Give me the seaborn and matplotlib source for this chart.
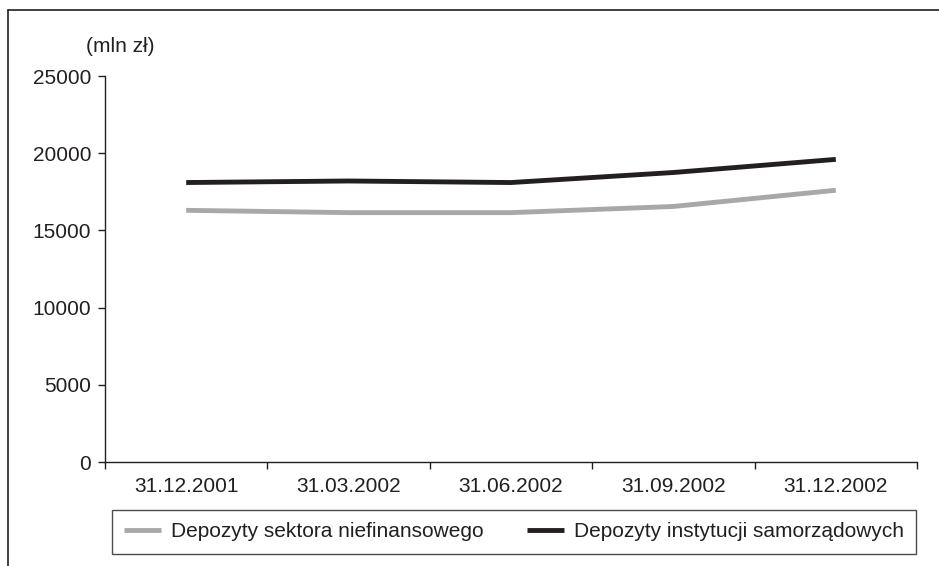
import matplotlib
matplotlib.use("Agg")
import matplotlib.pyplot as plt
from matplotlib.lines import Line2D
import pandas as pd
import seaborn as sns

# Quarter-end dates and deposit totals (mln zł)
dates = ["31.12.2001", "31.03.2002", "31.06.2002", "31.09.2002", "31.12.2002"]
depozyty_niefin = [16300, 16150, 16150, 16550, 17600]
depozyty_samorz = [18100, 18200, 18100, 18750, 19600]
series_names = ["Depozyty sektora niefinansowego", "Depozyty instytucji samorządowych"]
y_ticks = [0, 5000, 10000, 15000, 20000, 25000]

sns.set_style("ticks")
plt.rcParams["font.family"] = ["Liberation Sans", "DejaVu Sans"]
FS = 15
INK = "#231f20"

df = pd.DataFrame({
    "data": dates * 2,
    "wartosc": depozyty_niefin + depozyty_samorz,
    "seria": [series_names[0]] * len(dates) + [series_names[1]] * len(dates),
})

fig = plt.figure(figsize=(9.39, 5.66), dpi=100)
ax = fig.add_axes([105 / 939, 1 - 462 / 566, 812 / 939, 386 / 566])

palette = {series_names[0]: "#a7a8aa", series_names[1]: INK}
sns.lineplot(data=df, x="data", y="wartosc", hue="seria", palette=palette,
             linewidth=3.5, ax=ax, legend=False, sort=False)
for ln in ax.lines:
    ln.set_solid_capstyle("butt")

ax.set_xlim(-0.5, len(dates) - 0.5)
ax.set_ylim(0, 25000)
ax.set_yticks(y_ticks)
ax.set_yticklabels([str(v) for v in y_ticks], fontsize=FS, color=INK)
ax.set_xticks(range(len(dates)))
ax.set_xticklabels(dates, fontsize=FS, color=INK)
ax.set_xticks([i - 0.5 for i in range(len(dates) + 1)], minor=True)
ax.tick_params(axis="x", which="major", length=0, pad=11)
ax.tick_params(axis="x", which="minor", length=5, width=1, color=INK, direction="out")
ax.tick_params(axis="y", length=5, width=1, color=INK, direction="out", pad=5)
ax.set_xlabel("")
ax.set_ylabel("")
for s in ["top", "right"]:
    ax.spines[s].set_visible(False)
for s in ["left", "bottom"]:
    ax.spines[s].set_color(INK)
    ax.spines[s].set_linewidth(1)

fig.text(120 / 939, 1 - 46 / 566, "(mln zł)", fontsize=FS, color=INK, ha="center", va="center")

handles = [Line2D([], [], color=palette[n], linewidth=3.5, solid_capstyle="butt")
           for n in series_names]
leg = fig.legend(handles, series_names, ncol=2, loc="center",
                 bbox_to_anchor=(514 / 939, 1 - 531.5 / 566), frameon=True, fancybox=False,
                 fontsize=FS, handlelength=1.78, columnspacing=2.05,
                 borderpad=0.6, handletextpad=0.48)
leg.get_frame().set_edgecolor(INK)
leg.get_frame().set_linewidth(1)
leg.get_frame().set_boxstyle("square", pad=0)
for t in leg.get_texts():
    t.set_color(INK)

# Outer frame (left and top edges)
fig.add_artist(Line2D([8 / 939, 8 / 939], [0, 1 - 10 / 566], transform=fig.transFigure,
                      color=INK, linewidth=1.2))
fig.add_artist(Line2D([8 / 939, 1], [1 - 10 / 566, 1 - 10 / 566], transform=fig.transFigure,
                      color=INK, linewidth=1.2))

fig.savefig("out.png", dpi=100)
